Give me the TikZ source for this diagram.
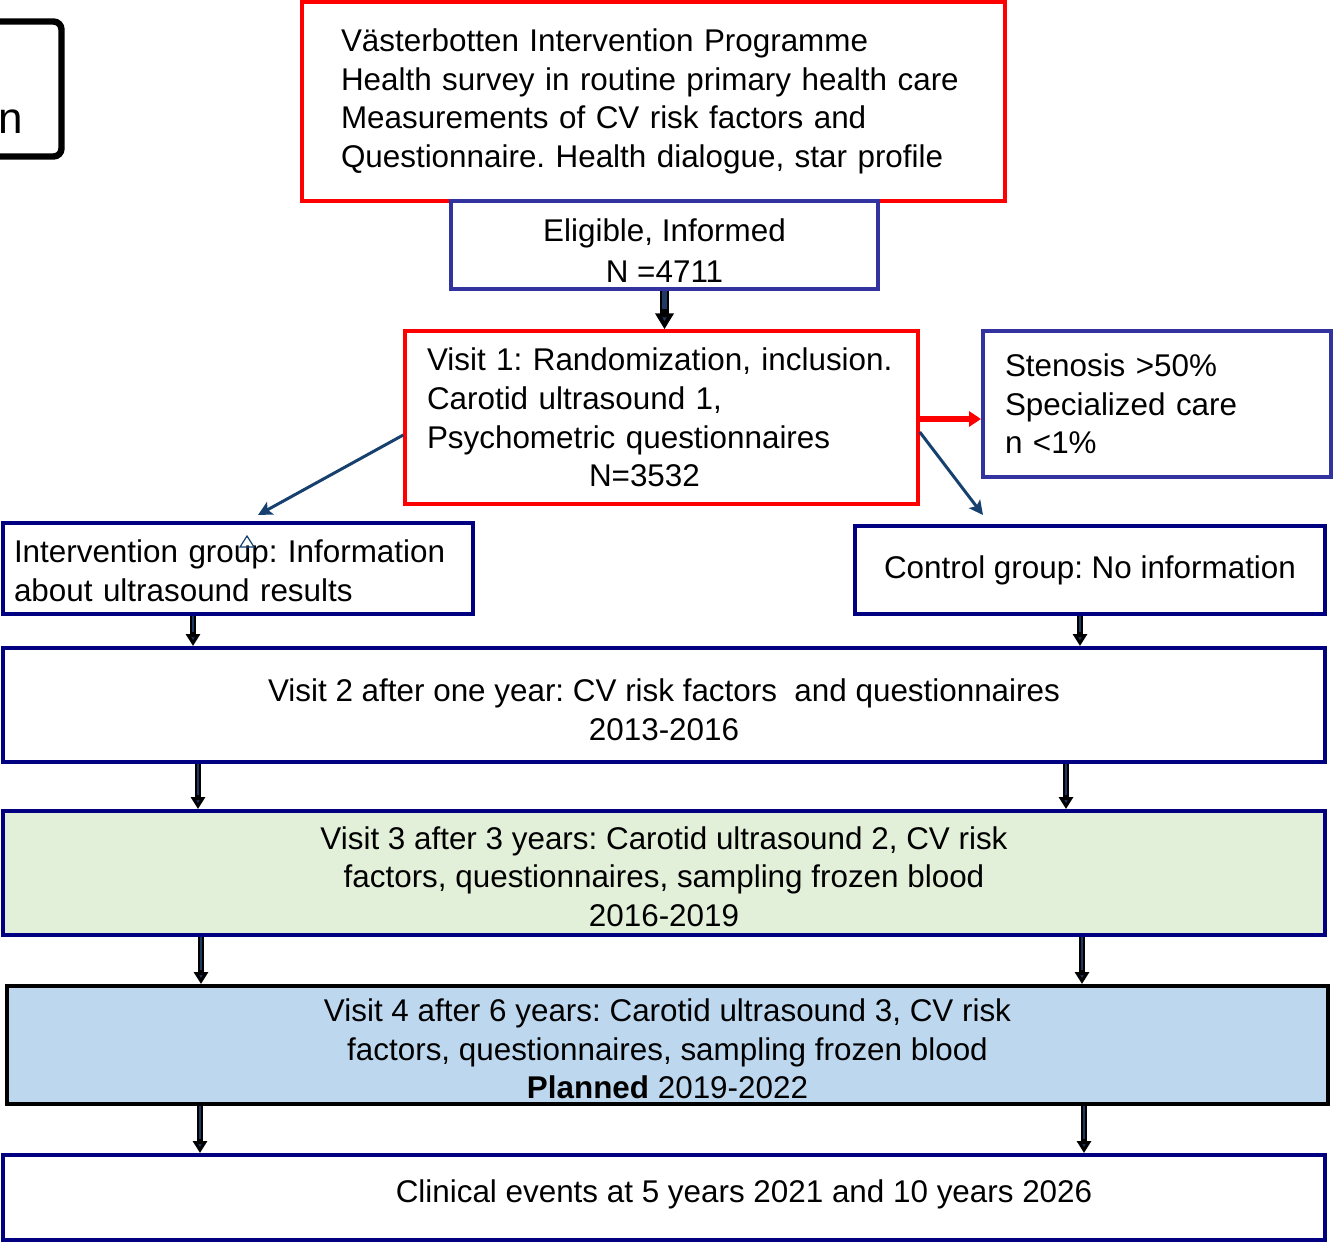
\documentclass[tikz,border=0pt]{standalone}
\usepackage{fontspec}
\setmainfont{Liberation Sans}
\usetikzlibrary{arrows.meta,calc}
\definecolor{boxred}{HTML}{FF0000}
\definecolor{purp}{HTML}{3333A0}
\definecolor{navyb}{HTML}{000080}
\definecolor{greenfill}{HTML}{E2EFD9}
\definecolor{bluefill}{HTML}{BDD7EE}
\definecolor{arrnavy}{HTML}{1F3864}
\definecolor{diagblue}{HTML}{16406E}
\frenchspacing
\begin{document}
\begin{tikzpicture}[x=0.5pt,y=-0.5pt,
  every node/.style={font=\fontsize{15.7}{19.3}\selectfont},
  redbox/.style={draw=boxred, line width=1.75pt, rectangle, inner ysep=0pt},
  purbox/.style={draw=purp, line width=2pt, rectangle, inner ysep=0pt},
  navbox/.style={draw=navyb, line width=2pt, rectangle, inner ysep=0pt},
  downarrow/.style={draw=black, line width=2.6pt, -{Triangle[width=7pt,length=6pt,fill=arrnavy]}},
  downinner/.style={draw=arrnavy, line width=1.1pt},
  diagarrow/.style={draw=diagblue, line width=1.5pt, -{Stealth[width=7pt,length=7pt,inset=1.5pt]}},
]
\useasboundingbox (0,0) rectangle (1333,1243);

% partial box at top left
\draw[line width=3.2pt, rounded corners=4pt] (-20,21.5) -- (61.5,21.5) -- (61.5,156.5) -- (-20,156.5);
\node[inner sep=0pt, font=\fontsize{22}{26}\selectfont] (partn) at (11,122) {n};

% boxes
\node[redbox, minimum width=351.5pt, minimum height=99.5pt, text width=312.5pt, inner xsep=19.5pt, align=left] (vip) at (653.5,101.5)
  {Västerbotten Intervention Programme\\Health survey in routine primary health care\\Measurements of CV risk factors and\\Questionnaire. Health dialogue, star profile};

\node[purbox, minimum width=213.5pt, minimum height=44pt, align=center, font=\fontsize{15.7}{20.5}\selectfont] (elig) at (664.5,245)
  {\rule{0pt}{17pt}Eligible, Informed\\N =4711};

\node[redbox, minimum width=256.5pt, minimum height=86.5pt, text width=234.5pt, inner xsep=11pt, align=left] (visit1) at (661.5,417.5)
  {Visit 1: Randomization, inclusion.\\Carotid ultrasound 1,\\Psychometric questionnaires\\\hspace*{81pt}N=3532};

\node[purbox, minimum width=174pt, minimum height=73pt, text width=152pt, inner xsep=11pt, align=left] (sten) at (1157,404)
  {Stenosis >50\%\\Specialized care\\n <1\%};

\node[navbox, minimum width=235pt, minimum height=45.5pt, text width=224pt, inner xsep=5.5pt, align=left] (interv) at (238,568.5)
  {\rule{0pt}{13.4pt}Intervention group: Information\\about ultrasound results};

\node[navbox, minimum width=235pt, minimum height=44pt, align=center] (control) at (1090,570)
  {Control group: No information};

\node[navbox, minimum width=661pt, minimum height=57pt, align=center] (v2) at (664,705)
  {\rule{0pt}{16.4pt}Visit 2 after one year: CV risk factors\ \ and questionnaires\\2013-2016};

\node[navbox, fill=greenfill, minimum width=661pt, minimum height=62pt, align=center] (v3) at (664,873)
  {\rule{0pt}{14.9pt}Visit 3 after 3 years: Carotid ultrasound 2, CV risk\\factors, questionnaires, sampling frozen blood\\2016-2019};

\node[draw=black, line width=2pt, fill=bluefill, inner ysep=0pt, minimum width=660.5pt, minimum height=59pt, align=center] (v4) at (667.5,1045)
  {\rule{0pt}{15.4pt}Visit 4 after 6 years: Carotid ultrasound 3, CV risk\\factors, questionnaires, sampling frozen blood\\\textbf{Planned} 2019-2022};

\node[navbox, minimum width=661pt, minimum height=42.5pt] (clin) at (664,1197.5) {};
\node[inner sep=0pt] (clintext) at (744,1194) {Clinical events at 5 years 2021 and 10 years 2026};

% small triangle mark
\draw[diagblue, line width=0.6pt] (240,547) -- (247,536) -- (254,547) -- cycle;

% arrow eligible -> visit 1
\draw[draw=black, line width=4.2pt, -{Triangle[width=9pt,length=8pt,fill=arrnavy]}] (elig.south) -- (elig.south |- visit1.north);
\draw[draw=arrnavy, line width=2.2pt] (elig.south) -- ($(elig.south |- visit1.north)+(0,-20)$);

% red arrow to stenosis
\coordinate (ra) at ($(visit1.east)+(0,1.5)$);
\draw[draw=boxred, line width=3pt, -{Triangle[width=7.5pt,length=6pt]}] (ra) -- (ra -| sten.west);

% diagonal arrows
\draw[diagarrow] ($(visit1.west)+(0,17.5)$) -- ($(interv.north)+(20,-6)$);
\draw[diagarrow] ($(visit1.east)+(0,14.5)$) -- ($(control.north west)+(130,-9)$);

% vertical arrows
\coordinate (xa1) at (193,0);
\coordinate (xb1) at (1080,0);
\coordinate (xa2) at (198,0);
\coordinate (xb2) at (1066,0);
\coordinate (xa3) at (201,0);
\coordinate (xb3) at (1082,0);
\coordinate (xa4) at (200,0);
\coordinate (xb4) at (1084,0);

\foreach \xc/\from/\to in {xa1/interv/v2, xb1/control/v2, xa2/v2/v3, xb2/v2/v3, xa3/v3/v4, xb3/v3/v4, xa4/v4/clin, xb4/v4/clin}{
  \draw[downarrow] (\from.south -| \xc) -- (\to.north -| \xc);
  \draw[downinner] (\from.south -| \xc) -- ($(\to.north -| \xc)+(0,-14)$);
}
\end{tikzpicture}
\end{document}
